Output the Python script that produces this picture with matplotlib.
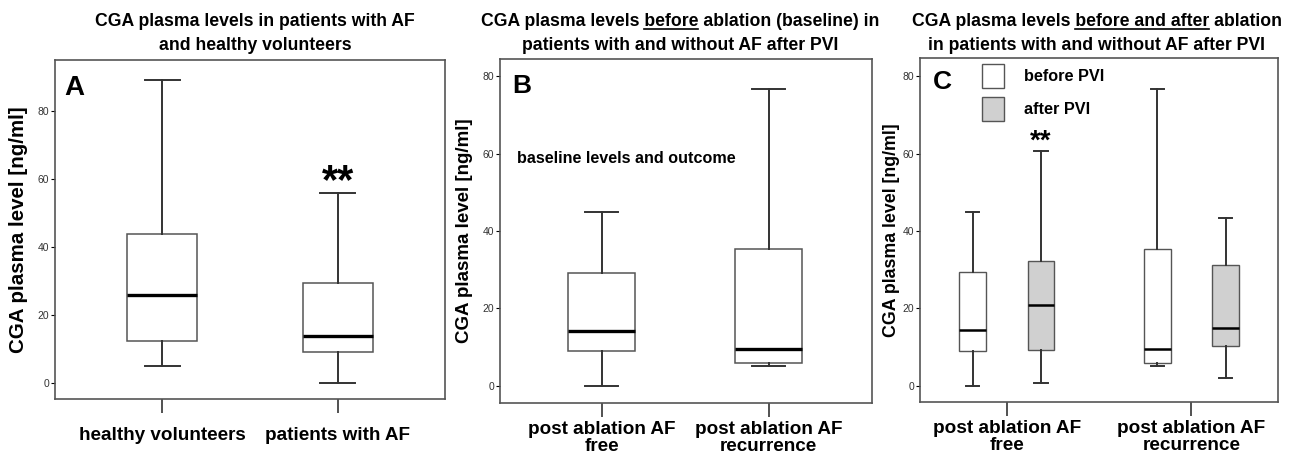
import matplotlib
matplotlib.use("Agg")
import matplotlib.pyplot as plt
from matplotlib.patches import Patch
from matplotlib.lines import Line2D

plt.rcParams['font.family'] = ['Liberation Sans', 'DejaVu Sans']

# ---- data ----
# box stats: lower whisker, q1, median, q3, upper whisker
groups_a = ["healthy volunteers", "patients with AF"]
healthy_a = [5.0, 12.5, 25.8, 43.9, 89.0]
patients_a = [0.0, 9.0, 13.9, 29.5, 55.9]

groups_b = ["post ablation AF\nfree", "post ablation AF\nrecurrence"]
free_b = [0.0, 9.0, 14.2, 29.2, 44.9]
recur_b = [5.2, 6.0, 9.5, 35.3, 76.6]

groups_c = ["post ablation AF\nfree", "post ablation AF\nrecurrence"]
before_c = [[0.0, 9.0, 14.3, 29.3, 45.0], [5.2, 6.0, 9.5, 35.3, 76.7]]
after_c = [[0.8, 9.2, 20.8, 32.3, 60.6], [1.9, 10.4, 14.9, 31.2, 43.4]]
legend_c = ["before PVI", "after PVI"]

yticks = [0, 20, 40, 60, 80]
ylabel = "CGA plasma level [ng/ml]"

EDGE = "#333333"
GREY = "#d0d0d0"
TFS = 12.7  # title font size


def stats(v):
    return dict(whislo=v[0], q1=v[1], med=v[2], q3=v[3], whishi=v[4], fliers=[])


def draw_boxes(ax, vals, pos, width, face, med_lw, box_lw=1.1):
    ax.bxp([stats(v) for v in vals], positions=pos, widths=width,
           showfliers=False, patch_artist=True,
           boxprops=dict(facecolor=face, edgecolor="#555555", linewidth=box_lw),
           medianprops=dict(color="black", linewidth=med_lw),
           whiskerprops=dict(color=EDGE, linewidth=1.4),
           capprops=dict(color=EDGE, linewidth=1.4),
           capwidths=width / 2, manage_ticks=False)


def style_axes(ax, labels, xlim, ylim, tick_size, tick_pad, ylab_size, ylab_x):
    ax.set_xlim(*xlim)
    ax.set_ylim(*ylim)
    ax.set_xticks([1, 2])
    ax.set_xticklabels(labels, fontsize=tick_size, fontweight="bold", linespacing=1.02)
    ax.set_yticks(yticks)
    ax.tick_params(axis="y", labelsize=7.5, labelcolor="#333333", length=3, width=0.8, pad=1)
    ax.tick_params(axis="x", length=10, width=1.2, pad=tick_pad, color="#333333")
    for s in ax.spines.values():
        s.set_color("#555555")
        s.set_linewidth(1.2)
    ax.set_ylabel(ylabel, fontsize=ylab_size, fontweight="bold")
    ax.yaxis.set_label_coords(ylab_x, 0.5)


fig = plt.figure(figsize=(13.03, 4.55), dpi=100)
axA = fig.add_axes([0.0422, 0.1231, 0.2993, 0.745])
axB = fig.add_axes([0.3837, 0.1143, 0.2855, 0.756])
axC = fig.add_axes([0.7061, 0.1165, 0.2748, 0.756])

# Panel A
draw_boxes(axA, [healthy_a, patients_a], [1, 2], 0.4, "white", 2.4)
style_axes(axA, groups_a, (0.39, 2.61), (-4.7, 95), 13.6, 10, 14.8, -0.068)
axA.text(0.023, 0.955, "A", transform=axA.transAxes, fontsize=20, fontweight="bold", va="top")
axA.text(2, 59, "**", fontsize=30, fontweight="bold", ha="center", va="center")

# Panel B
draw_boxes(axB, [free_b, recur_b], [1, 2], 0.4, "white", 2.4)
style_axes(axB, groups_b, (0.39, 2.62), (-4.4, 84.4), 13.6, 3, 13.5, -0.072)
axB.text(0.032, 0.955, "B", transform=axB.transAxes, fontsize=19, fontweight="bold", va="top")
axB.text(0.49, 58.8, "baseline levels and outcome", fontsize=11.6, fontweight="bold", va="center")

# Panel C
off = 0.185
draw_boxes(axC, before_c, [1 - off, 2 - off], 0.144, "white", 1.8, 1.0)
draw_boxes(axC, after_c, [1 + off, 2 + off], 0.144, GREY, 1.8, 1.0)
style_axes(axC, groups_c, (0.53, 2.47), (-4.2, 84.7), 13.7, 3, 12.8, -0.055)
axC.text(0.036, 0.965, "C", transform=axC.transAxes, fontsize=19, fontweight="bold", va="top")
axC.text(1 + off, 63, "**", fontsize=20, fontweight="bold", ha="center", va="center")
handles = [Patch(facecolor="white", edgecolor="#555555", linewidth=1.0),
           Patch(facecolor=GREY, edgecolor="#555555", linewidth=1.0)]
axC.legend(handles, legend_c, loc="upper left", bbox_to_anchor=(0.172, 0.983),
           frameon=False, borderpad=0, borderaxespad=0, handlelength=1.4,
           handleheight=1.9, labelspacing=0.55, handletextpad=1.2,
           prop=dict(size=11.7, weight="bold"))

# Titles (with underlined words)
titles = [
    (255, ("CGA plasma levels in patients with AF", None), "and healthy volunteers"),
    (680, ("CGA plasma levels before ablation (baseline) in", "before"),
     "patients with and without AF after PVI"),
    (1097, ("CGA plasma levels before and after ablation", "before and after"),
     "in patients with and without AF after PVI"),
]
W, H = 1303, 455
fig.canvas.draw()
renderer = fig.canvas.get_renderer()
for xc, (line1, ul), line2 in titles:
    t1 = fig.text(xc / W, 1 - 22 / H, line1, fontsize=TFS, fontweight="bold",
                  ha="center", va="center")
    fig.text(xc / W, 1 - 45 / H, line2, fontsize=TFS, fontweight="bold",
             ha="center", va="center")
    if ul:
        bb = t1.get_window_extent(renderer)
        i = line1.index(ul)
        tmp = fig.text(0, 0, line1[:i], fontsize=TFS, fontweight="bold")
        w0 = tmp.get_window_extent(renderer).width if i else 0
        tmp.set_text(line1[:i + len(ul)])
        w1 = tmp.get_window_extent(renderer).width
        tmp.remove()
        y = bb.y0 + 2
        fig.add_artist(Line2D([(bb.x0 + w0) / W, (bb.x0 + w1) / W], [y / H, y / H],
                              transform=fig.transFigure, color="black", linewidth=1.2))

fig.savefig("out.png", dpi=100)
